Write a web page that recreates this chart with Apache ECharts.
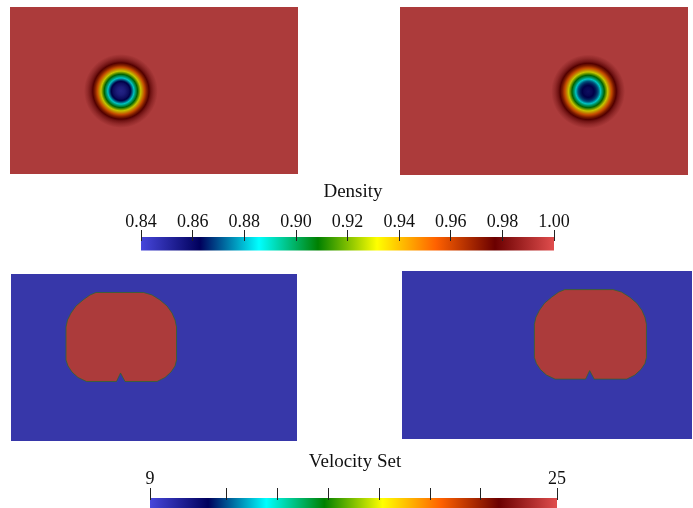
<!DOCTYPE html>
<html><head><meta charset="utf-8">
<script src="https://cdn.jsdelivr.net/npm/echarts@6/dist/echarts.min.js"></script>
<style>html,body{margin:0;padding:0;background:#fff}#c{width:693px;height:508px}</style>
</head><body><div id="c"></div>
<script>
// ---------- data ----------
const densityRange = [0.84, 1.00];
const velocityRange = [9, 25];
const densityTicks = [0.84, 0.86, 0.88, 0.90, 0.92, 0.94, 0.96, 0.98, 1.00];
const velocityTicks = [9, 12, 14, 16, 18, 20, 22, 25];
const velocityTickLabels = [9, 25];
const domainX = [0, 12];
const domainY = [0, 7];
const ambientDensity = 1.00;
const vortexCenterX = [4.62, 7.84];
const vortexCenterY = [3.48, 3.48];
const profileRadius = [0, 0.17, 0.33, 0.42, 0.5, 0.58, 0.67, 0.75, 0.83, 0.92, 1.0, 1.08, 1.17, 1.25, 1.38, 1.54];
const densityProfileEarly = [0.848, 0.851, 0.858, 0.865, 0.878, 0.892, 0.905, 0.918, 0.932, 0.945, 0.957, 0.968, 0.977, 0.985, 0.993, 1.0];
const densityProfileLate  = [0.857, 0.860, 0.866, 0.872, 0.883, 0.896, 0.908, 0.921, 0.934, 0.947, 0.958, 0.969, 0.977, 0.985, 0.993, 1.0];
const velocityOutside = 9;
const velocityInside = 25;
const setShiftX = [0, 3.17];
const setOutlineX = [3.567, 5.560, 5.917, 6.253, 6.546, 6.756, 6.882, 6.945, 6.945, 6.882, 6.714, 6.462, 6.127, 4.784, 4.595, 4.427, 3.168, 2.812, 2.560, 2.392, 2.308, 2.308, 2.371, 2.518, 2.728, 3.021, 3.315];
const setOutlineY = [6.225, 6.225, 6.120, 5.910, 5.659, 5.365, 5.072, 4.779, 3.396, 3.144, 2.893, 2.662, 2.495, 2.495, 2.851, 2.495, 2.495, 2.662, 2.893, 3.144, 3.396, 4.779, 5.072, 5.365, 5.659, 5.910, 6.120];

// ---------- colour map (Rainbow Desaturated) ----------
const fieldStops = [[71,71,219],[0,0,92],[0,255,255],[0,128,0],[255,255,0],[255,97,0],[107,0,0],[224,77,77]];
const panelShade = 0.77;

function mapColor(v, range, shade) {
  let t = (v - range[0]) / (range[1] - range[0]);
  t = Math.max(0, Math.min(1, t));
  const n = fieldStops.length - 1;
  const s = t * n;
  const i = Math.min(Math.floor(s), n - 1);
  const f = s - i;
  const a = fieldStops[i], b = fieldStops[i + 1];
  const c = [0, 1, 2].map(k => Math.round((a[k] + (b[k] - a[k]) * f) * shade));
  return 'rgb(' + c.join(',') + ')';
}

function radialStops(radii, values, range, shade) {
  const R = radii[radii.length - 1];
  const n = fieldStops.length - 1;
  const stops = [];
  for (let i = 0; i < radii.length; i++) {
    stops.push({ offset: radii[i] / R, color: mapColor(values[i], range, shade) });
    if (i < radii.length - 1) {
      for (let k = 1; k < n; k++) {
        const nv = range[0] + (range[1] - range[0]) * k / n;
        const lo = Math.min(values[i], values[i + 1]), hi = Math.max(values[i], values[i + 1]);
        if (nv > lo && nv < hi) {
          const fr = (nv - values[i]) / (values[i + 1] - values[i]);
          stops.push({ offset: (radii[i] + fr * (radii[i + 1] - radii[i])) / R, color: mapColor(nv, range, shade) });
        }
      }
    }
  }
  stops.sort((a, b) => a.offset - b.offset);
  return stops;
}

// ---------- layout ----------
const panelGrids = [
  { left: 10, top: 7, width: 288, height: 167 },
  { left: 400, top: 7, width: 288, height: 168 },
  { left: 11, top: 274, width: 286, height: 167 },
  { left: 402, top: 271, width: 290, height: 168 }
];
const barGrids = [
  { left: 141, top: 237, width: 413, height: 13.5 },
  { left: 150, top: 498, width: 407, height: 14 }
];
const FONT = 'Liberation Serif, Times New Roman, serif';

const grids = panelGrids.concat(barGrids).map(g => Object.assign({ outerBoundsMode: 'none', containLabel: false }, g));

const xAxes = [], yAxes = [];
for (let i = 0; i < 4; i++) {
  xAxes.push({ gridIndex: i, type: 'value', min: domainX[0], max: domainX[1], show: false });
  yAxes.push({ gridIndex: i, type: 'value', min: domainY[0], max: domainY[1], show: false });
}
xAxes.push({
  gridIndex: 4, type: 'value', position: 'top', min: densityRange[0], max: densityRange[1],
  offset: -4, z: 10,
  axisLine: { show: false, onZero: false }, splitLine: { show: false },
  axisTick: { show: true, inside: false, length: 11, customValues: densityTicks, lineStyle: { color: '#222', width: 1 } },
  axisLabel: { show: true, inside: false, customValues: densityTicks, margin: 10, formatter: v => Number(v).toFixed(2),
    fontFamily: FONT, fontSize: 18, color: '#111' }
});
yAxes.push({ gridIndex: 4, type: 'value', min: 0, max: 1, show: false });
xAxes.push({
  gridIndex: 5, type: 'value', position: 'top', min: velocityRange[0], max: velocityRange[1],
  offset: -2, z: 10,
  axisLine: { show: false, onZero: false }, splitLine: { show: false },
  axisTick: { show: true, inside: false, length: 12, customValues: velocityTicks, lineStyle: { color: '#222', width: 1 } },
  axisLabel: { show: true, inside: false, customValues: velocityTickLabels, margin: 12, formatter: v => String(v),
    fontFamily: FONT, fontSize: 18, color: '#111' }
});
yAxes.push({ gridIndex: 5, type: 'value', min: 0, max: 1, show: false });

function bgSeries(idx, value, range) {
  return {
    type: 'custom', xAxisIndex: idx, yAxisIndex: idx, silent: true, clip: false,
    data: [[domainX[0], domainY[0], domainX[1], domainY[1], value]],
    renderItem: (params, api) => {
      const p0 = api.coord([api.value(0), api.value(3)]);
      const p1 = api.coord([api.value(2), api.value(1)]);
      return { type: 'rect', shape: { x: p0[0], y: p0[1], width: p1[0] - p0[0], height: p1[1] - p0[1] },
        style: { fill: mapColor(api.value(4), range, panelShade) } };
    }
  };
}
const profiles = [densityProfileEarly, densityProfileLate];
function vortexSeries(idx, k) {
  return {
    type: 'custom', xAxisIndex: idx, yAxisIndex: idx, silent: true, clip: true, z: 3,
    data: [[vortexCenterX[k], vortexCenterY[k], k]],
    renderItem: (params, api) => {
      const c = api.coord([api.value(0), api.value(1)]);
      const R = profileRadius[profileRadius.length - 1];
      const r = api.size([R, 0])[0];
      return { type: 'circle', shape: { cx: c[0], cy: c[1], r: r },
        style: { fill: { type: 'radial', x: 0.5, y: 0.5, r: 0.5,
          colorStops: radialStops(profileRadius, profiles[api.value(2)], densityRange, panelShade) } } };
    }
  };
}
function setSeries(idx, k) {
  return {
    type: 'custom', xAxisIndex: idx, yAxisIndex: idx, silent: true, clip: true, z: 3,
    data: [[setShiftX[k], velocityInside]],
    renderItem: (params, api) => {
      const sx = api.value(0);
      const pts = setOutlineX.map((x, i) => api.coord([x + sx, setOutlineY[i]]));
      return { type: 'polygon', shape: { points: pts },
        style: { fill: mapColor(api.value(1), velocityRange, panelShade), stroke: 'rgba(45,105,40,0.75)', lineWidth: 1 } };
    }
  };
}
function barSeries(idx, range) {
  return {
    type: 'custom', xAxisIndex: idx, yAxisIndex: idx, silent: true, clip: false, z: 2,
    data: [[range[0], range[1]]],
    renderItem: (params, api) => {
      const p0 = api.coord([api.value(0), 1]);
      const p1 = api.coord([api.value(1), 0]);
      const n = fieldStops.length - 1;
      return { type: 'rect', shape: { x: p0[0], y: p0[1], width: p1[0] - p0[0], height: p1[1] - p0[1] },
        style: { fill: { type: 'linear', x: 0, y: 0, x2: 1, y2: 0,
          colorStops: fieldStops.map((c, i) => ({ offset: i / n, color: 'rgb(' + c.join(',') + ')' })) } } };
    }
  };
}

const series = [
  bgSeries(0, ambientDensity, densityRange), vortexSeries(0, 0),
  bgSeries(1, ambientDensity, densityRange), vortexSeries(1, 1),
  bgSeries(2, velocityOutside, velocityRange), setSeries(2, 0),
  bgSeries(3, velocityOutside, velocityRange), setSeries(3, 1),
  barSeries(4, densityRange), barSeries(5, velocityRange)
];

const chart = echarts.init(document.getElementById('c'), null, { renderer: 'canvas' });
chart.setOption({
  animation: false,
  backgroundColor: '#ffffff',
  grid: grids,
  xAxis: xAxes,
  yAxis: yAxes,
  series: series,
  graphic: [
    { type: 'text', x: 353, y: 192, style: { text: 'Density', textAlign: 'center', textVerticalAlign: 'middle',
      font: '19px ' + FONT, fill: '#111' } },
    { type: 'text', x: 355, y: 462, style: { text: 'Velocity Set', textAlign: 'center', textVerticalAlign: 'middle',
      font: '19px ' + FONT, fill: '#111' } }
  ]
});
</script></body></html>
